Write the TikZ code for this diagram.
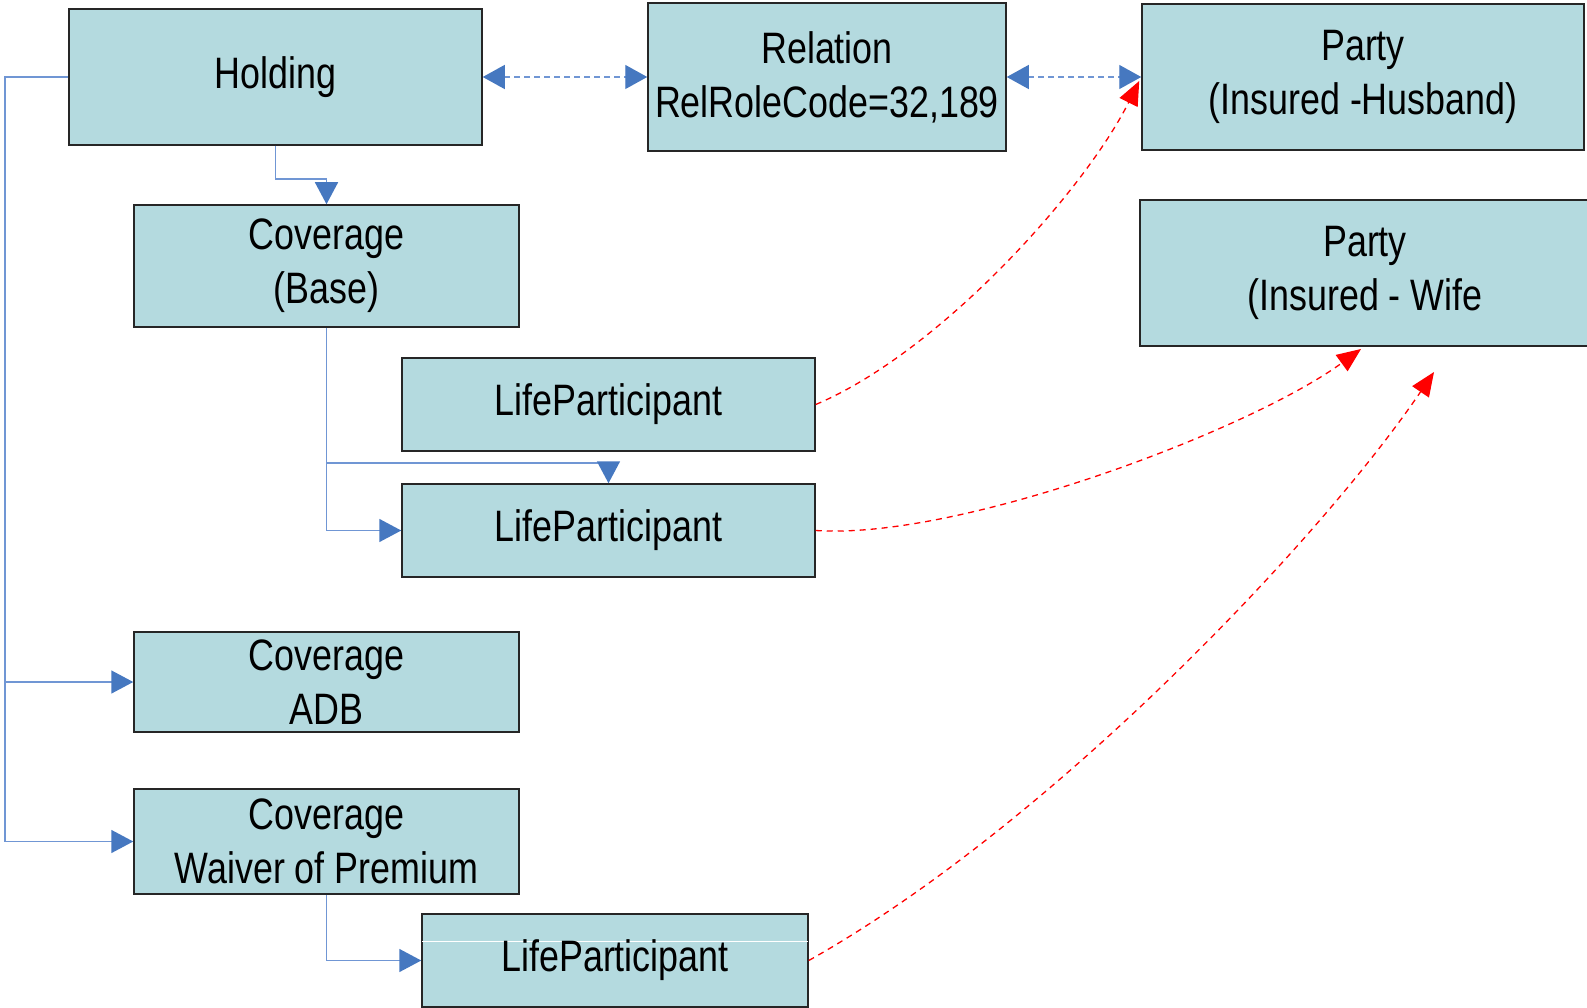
\documentclass[tikz,border=0pt]{standalone}
\usepackage{fontspec}
\setmainfont[FakeStretch=0.815]{Liberation Sans}
\usetikzlibrary{arrows.meta,calc}
\definecolor{boxfill}{RGB}{180,218,223}
\definecolor{linkblue}{RGB}{112,150,212}
\definecolor{headblue}{RGB}{70,120,192}
\begin{document}
\begin{tikzpicture}[x=1pt,y=-1pt,
  box/.style={draw=black!85, line width=1.5pt, fill=boxfill, inner sep=0pt,
    align=center, anchor=center, font=\fontsize{44}{54}\selectfont},
  bluetip/.style={-{Triangle[length=22pt,width=23pt,color=headblue]}},
  link/.style={draw=linkblue, line width=1.6pt, bluetip},
  rail/.style={draw=linkblue, line width=1.6pt},
  assoc/.style={draw=linkblue, line width=1.3pt, dash pattern=on 6pt off 4pt,
    {Triangle[length=22pt,width=24pt,color=headblue]}-{Triangle[length=22pt,width=24pt,color=headblue]}},
  refer/.style={draw=red, line width=1.3pt, dash pattern=on 6pt off 5pt,
    -{Triangle[length=24pt,width=20pt,color=red]}}]
\useasboundingbox (0,0) rectangle (1587,1008);

% entity boxes
\node[box, minimum width=413pt, minimum height=136pt] (hold) at (275.5,77) {Holding};
\node[box, minimum width=358pt, minimum height=148pt] (rel) at (827,77) {Relation\\RelRoleCode=32,189};
\node[box, minimum width=442pt, minimum height=146pt] (ph) at (1363,77) {Party\\(Insured -Husband)};
\node[box, minimum width=450pt, minimum height=146pt] (pw) at (1365,273) {Party\\(Insured - Wife};
\node[box, minimum width=385pt, minimum height=122pt] (cb) at (326.5,266) {Coverage\\(Base)};
\node[box, minimum width=413pt, minimum height=93pt] (lp1) at (608.5,404.5) {LifeParticipant};
\node[box, minimum width=413pt, minimum height=93pt] (lp2) at (608.5,530.5) {LifeParticipant};
\node[box, minimum width=385pt, minimum height=100pt] (adb) at (326.5,682) {Coverage\\ADB};
\node[box, minimum width=385pt, minimum height=105pt] (wop) at (326.5,841.5) {Coverage\\Waiver of Premium};
\node[box, minimum width=386pt, minimum height=93pt] (lp3) at (615,960.5) {};
\draw[white, line width=1.2pt] ($(lp3.north west)+(1,28)$) -- ($(lp3.north east)+(-1,28)$);
\node[font=\fontsize{44}{54}\selectfont] (lp3text) at (lp3) {LifeParticipant};

% relation associations
\draw[assoc] (hold.east) -- (rel.west);
\draw[assoc] (rel.east) -- (ph.west);

% containment links
\coordinate (railtop) at (5,77);
\draw[rail, bluetip] (hold.west) -- (railtop) |- (wop.west);
\draw[link] (railtop |- adb.west) -- (adb.west);
\draw[link] (hold.south) -- ++(0,33) -| (cb.north);
\draw[link] (cb.south) |- (lp2.west);
\draw[link] (cb.south) ++(0,135.5) -| (lp2.north);
\draw[link] (wop.south) |- (lp3.west);

% party references
\coordinate (tipH) at ($(ph.west)+(-2,4)$);
\coordinate (tipW) at (1361,349);
\coordinate (tipX) at (1434,372);
\draw[refer] (lp1.east) .. controls (940,352) and (1085,190) .. (tipH);
\draw[refer] (lp2.east) .. controls (960,540) and (1250,430) .. (tipW);
\draw[refer] (lp3.east) .. controls (1050,825) and (1320,540) .. (tipX);
\end{tikzpicture}
\end{document}
